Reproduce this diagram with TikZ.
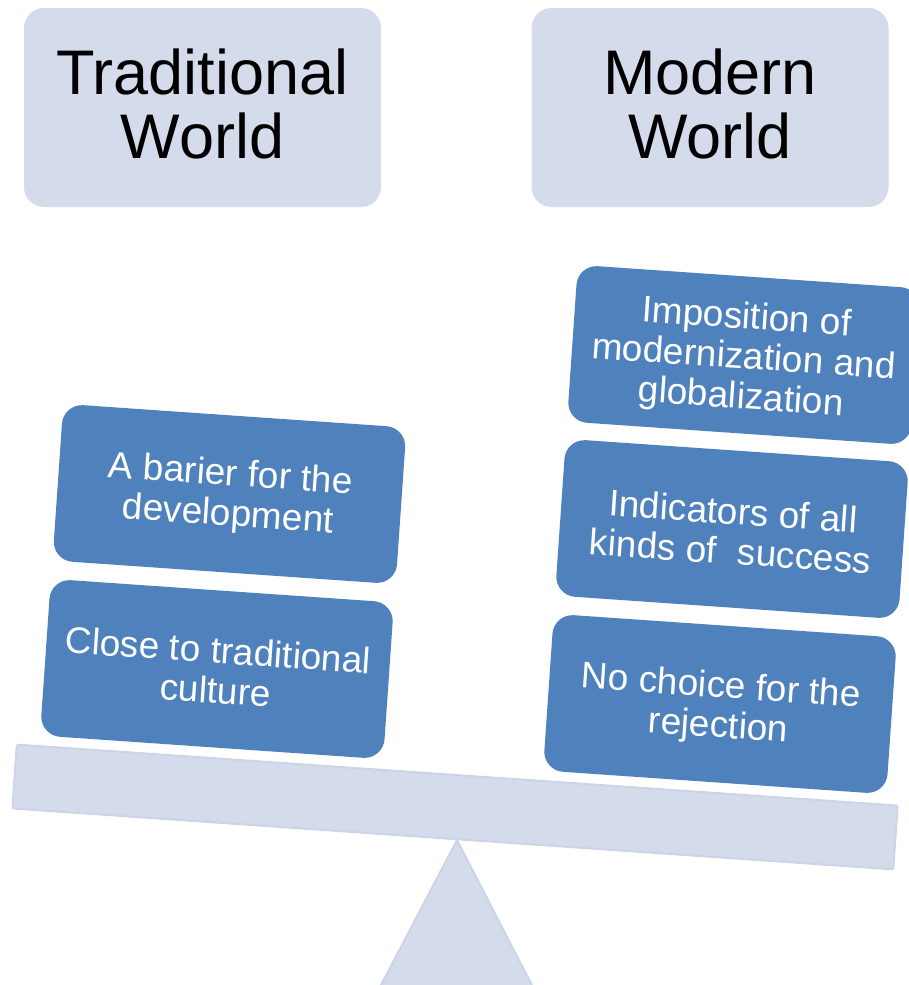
\documentclass[tikz,border=0pt]{standalone}
\usepackage{fontspec}
\setmainfont{Liberation Sans}
\definecolor{boxblue}{HTML}{4F81BD}
\definecolor{lightbox}{HTML}{D4DBEA}
\definecolor{lightedge}{HTML}{CCD5E7}
\begin{document}
\begin{tikzpicture}[x=1pt,y=1pt,
  titlebox/.style={fill=lightbox, rounded corners=20pt, minimum width=357pt,
    minimum height=199pt, inner sep=0pt},
  titletext/.style={inner sep=0pt, align=center,
    font=\fontsize{63}{64}\selectfont, text=black},
  itembox/.style={fill=boxblue, rounded corners=20pt, minimum width=344pt,
    minimum height=157pt, inner sep=0pt, rotate=-3.96},
  itemtext/.style={inner sep=0pt, align=center,
    font=\fontsize{37}{40}\selectfont, text=white, rotate=-3.96},
  beambox/.style={fill=lightbox, draw=lightedge, line width=2pt,
    rounded corners=2pt, minimum width=883pt, minimum height=64pt,
    inner sep=0pt, rotate=-3.96},
  fulcrum/.style={fill=lightbox, draw=lightedge, line width=2pt, line join=round}
]
\useasboundingbox (0,-985) rectangle (909,0);
\clip (0,-985) rectangle (909,0);

% titles
\node[titlebox] (trad) at (202.5,-107.5) {};
\node[titletext] (tradtxt) at ([yshift=4pt]trad.center) {Traditional\\World};
\node[titlebox] (mod) at (710,-107.5) {};
\node[titletext] (modtxt) at ([yshift=4pt]mod.center) {Modern\\World};

% fulcrum and beam
\coordinate (apex) at (457,-840);
\coordinate (baseL) at (375.8,-995);
\coordinate (baseR) at (537,-995);
\draw[fulcrum] (apex) -- (baseL) -- (baseR) -- cycle;
\node[beambox] (beam) at (455,-807) {};

% left pile
\node[itembox] (barrier) at (229.5,-494) {};
\node[itemtext] (barriertxt) at ([shift={(-0.2,-2)}]barrier.center) {A barier for the\\development};
\node[itembox] (close) at (217,-669) {};
\node[itemtext] (closetxt) at ([shift={(-0.2,-1)}]close.center) {Close to traditional\\culture};

% right pile
\node[itembox] (impos) at (744,-355) {};
\node[itemtext] (impostxt) at ([shift={(-0.3,-4)}]impos.center) {Imposition of\\modernization and\\globalization};
\node[itembox] (indic) at (732,-529) {};
\node[itemtext] (indictxt) at ([shift={(-0.2,-2)}]indic.center) {Indicators of all\\kinds of~ success};
\node[itembox] (nochoice) at (720,-704) {};
\node[itemtext] (nochoicetxt) at ([shift={(-0.3,-4)}]nochoice.center) {No choice for the\\rejection};
\end{tikzpicture}
\end{document}
